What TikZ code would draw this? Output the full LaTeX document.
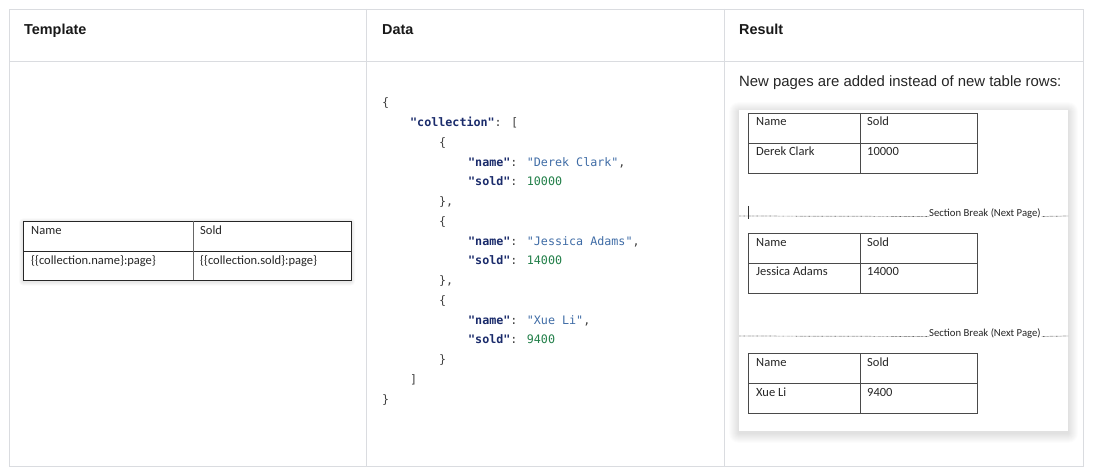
\documentclass[tikz,border=0pt]{standalone}
\usepackage{fontspec}
\setmainfont{Liberation Sans}
\newfontfamily\calib{Carlito}
\newfontfamily\monof{DejaVu Sans Mono}
\definecolor{gridc}{HTML}{DADCE0}
\definecolor{keyc}{HTML}{1A2B6B}
\definecolor{strc}{HTML}{3F6CA6}
\definecolor{numc}{HTML}{23804A}
\definecolor{punc}{HTML}{404040}
\definecolor{tline}{HTML}{4A4A4A}
\newcommand\jk[1]{\textcolor{keyc}{\bfseries"#1"}}
\newcommand\js[1]{\textcolor{strc}{"#1"}}
\newcommand\jn[1]{\textcolor{numc}{#1}}
% soft shadow: x1,y1,x2,y2,steps,yoffset,opacity
\newcommand\softshadow[7]{%
  \foreach \i in {1,...,#5}{%
    \fill[black,opacity=#7,rounded corners=\i pt]
      (#1-\i,#2-\i+#6) rectangle (#3+\i,#4+\i+#6);
  }%
}
\begin{document}
\begin{tikzpicture}[x=1pt,y=-1pt,
  grid/.style={draw=gridc,line width=0.8pt},
  hdr/.style={anchor=base west,inner sep=0pt,font=\fontsize{14.4}{16}\selectfont\bfseries,text=black!90},
  cell/.style={anchor=base west,inner sep=0pt,font=\calib\fontsize{12.5}{14}\selectfont,text=black!85},
  json/.style={anchor=base west,inner sep=0pt,font=\monof\fontsize{11.7}{14}\selectfont,text=punc},
  tbl/.style={draw=tline,line width=0.9pt},
  sbtext/.style={anchor=base west,inner sep=0pt,font=\calib\fontsize{10.7}{12}\selectfont,text=black!85},
  dots/.style={draw=black!60,line width=0.7pt,dash pattern=on 0.6pt off 0.7pt}]
\useasboundingbox (0,0) rectangle (1096,476);
\fill[white] (0,0) rectangle (1096,476);
% outer grid
\draw[grid] (9,9) rectangle (1083,466);
\draw[grid] (9,61) -- (1083,61);
\draw[grid] (366,9) -- (366,466);
\draw[grid] (724,9) -- (724,466);
% headers
\node[hdr] (h1) at (24,35) {Template};
\node[hdr] (h2) at (382,35) {Data};
\node[hdr] (h3) at (739,35) {Result};
% template table
\softshadow{23}{221}{351}{280}{4}{1.5}{0.022}
\fill[white] (23,221) rectangle (351,280);
\draw[tbl,draw=black!85] (23,221) rectangle (351,280);
\draw[tbl,draw=black!85] (23,251) -- (351,251);
\draw[tbl,draw=black!60] (193,221) -- (193,280);
\node[cell] (tn) at (31,234) {Name};
\node[cell] (ts) at (200,234) {Sold};
\node[cell] (tcn) at (31,264) {\{\{collection.name\}:page\}};
\node[cell] (tcs) at (200,264) {\{\{collection.sold\}:page\}};
% json
\node[json] (j1) at (382,107) {\{};
\node[json] (j2) at (410,126.7) {\jk{collection}: [};
\node[json] (j3) at (439,146.5) {\{};
\node[json] (j4) at (468,166.2) {\jk{name}: \js{Derek Clark},};
\node[json] (j5) at (468,185.9) {\jk{sold}: \jn{10000}};
\node[json] (j6) at (439,205.7) {\},};
\node[json] (j7) at (439,225.4) {\{};
\node[json] (j8) at (468,245.1) {\jk{name}: \js{Jessica Adams},};
\node[json] (j9) at (468,264.8) {\jk{sold}: \jn{14000}};
\node[json] (j10) at (439,284.6) {\},};
\node[json] (j11) at (439,304.3) {\{};
\node[json] (j12) at (468,324.0) {\jk{name}: \js{Xue Li},};
\node[json] (j13) at (468,343.8) {\jk{sold}: \jn{9400}};
\node[json] (j14) at (439,363.5) {\}};
\node[json] (j15) at (410,383.2) {]};
\node[json] (j16) at (382,403) {\}};
% result
\node[anchor=base west,inner sep=0pt,font=\fontsize{14.9}{16}\selectfont,text=black!85] (rt) at (739,87) {New pages are added instead of new table rows:};
\softshadow{739}{110}{1068}{431}{10}{2}{0.011}
\fill[white] (739,110) rectangle (1068,431);
% result tables
\foreach \t/\nm/\sd in {113/Derek Clark/10000, 233/Jessica Adams/14000, 353/Xue Li/9400}{
  \draw[tbl] (748,\t) rectangle (977,\t+60);
  \draw[tbl] (748,\t+30) -- (977,\t+30);
  \draw[tbl] (860,\t) -- (860,\t+60);
  \node[cell] (rn\t) at (756,\t+13) {Name};
  \node[cell] (rs\t) at (867,\t+13) {Sold};
  \node[cell] (rv\t) at (756,\t+43) {\nm};
  \node[cell] (rw\t) at (867,\t+43) {\sd};
}
% section breaks
\foreach \y in {213,333}{
  \node[sbtext] (sb\y) at (929,\y+3.5) {Section Break (Next Page)};
  \draw[dots] (739,\y+3) -- (sb\y.base west);
  \draw[dots] ([xshift=1pt]sb\y.base east) -- (1068,\y+3);
}
\draw[black!80,line width=0.8pt] (748,206) -- (748,219);
\end{tikzpicture}
\end{document}
